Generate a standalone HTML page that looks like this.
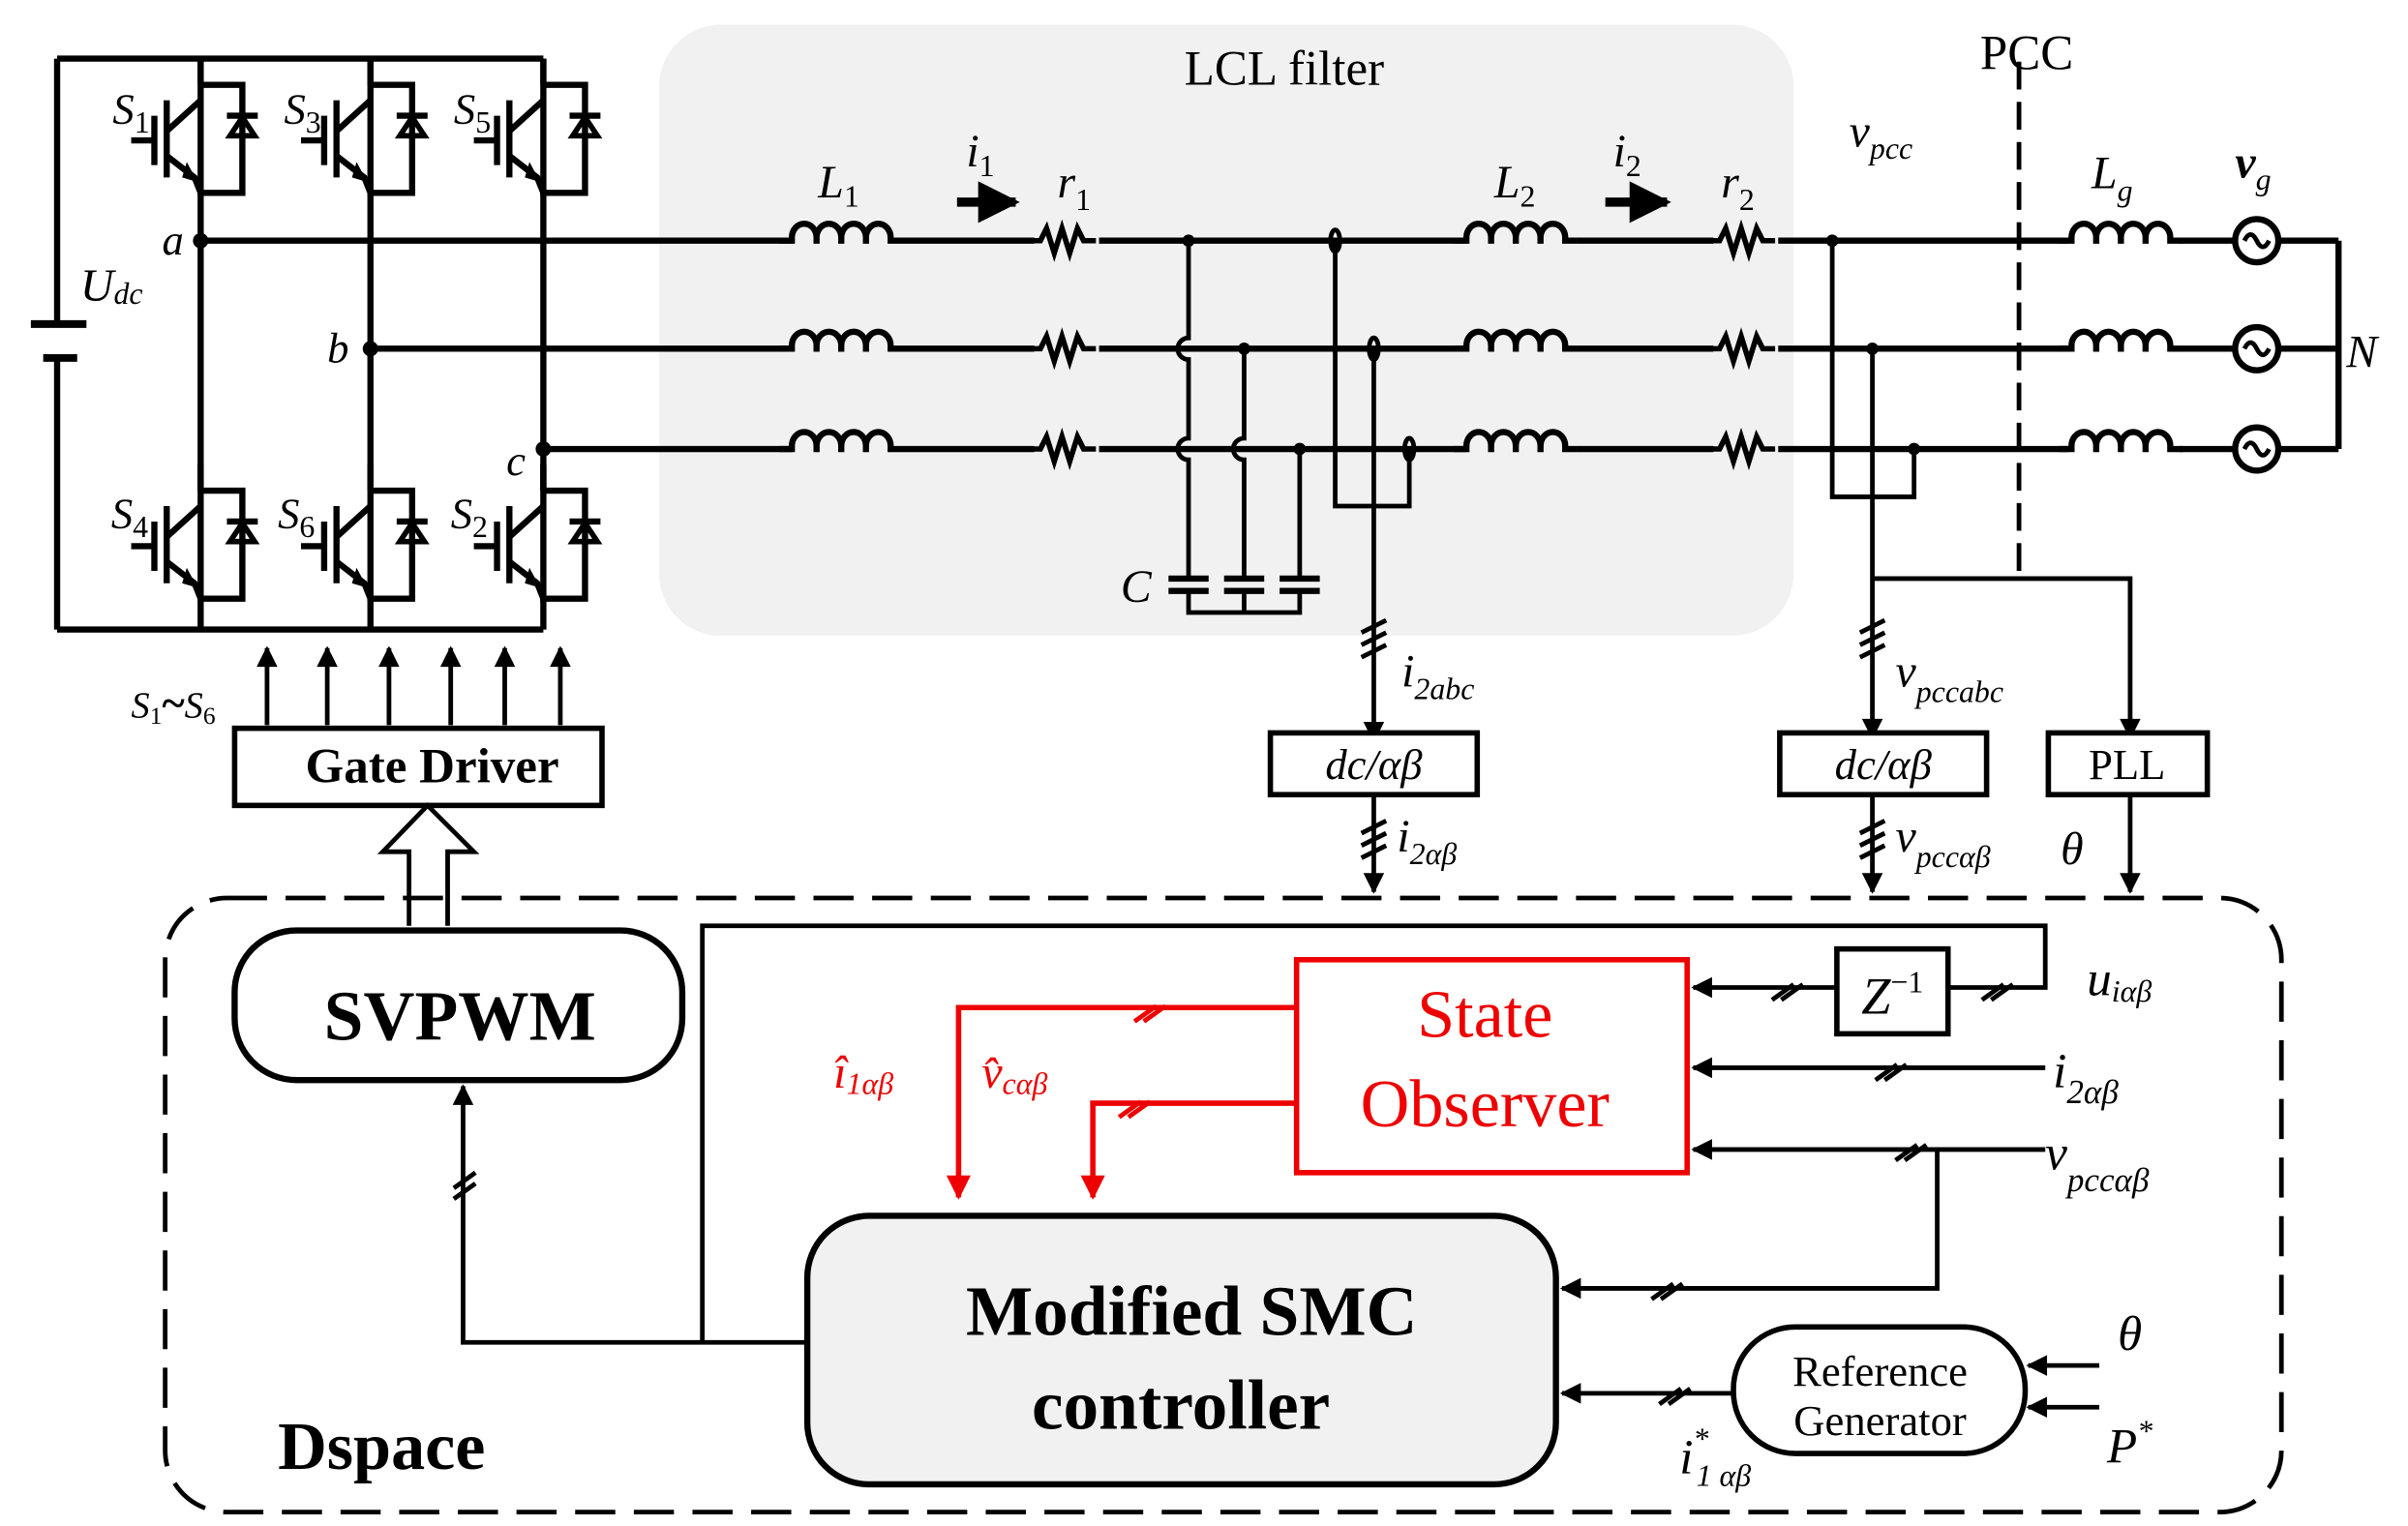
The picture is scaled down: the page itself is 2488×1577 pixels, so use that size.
<!DOCTYPE html>
<html><head><meta charset="utf-8"><style>
html,body{margin:0;padding:0;background:#fff;}
svg{display:block}
text{font-family:"Liberation Serif",serif;}
</style></head><body>
<svg width="2488" height="1577" viewBox="0 0 1560 989" preserveAspectRatio="none" xmlns="http://www.w3.org/2000/svg">
<defs>
<marker id="ar" viewBox="0 0 10 10" refX="9" refY="5" markerWidth="5" markerHeight="4.5" orient="auto"><path d="M0,0 L10,5 L0,10 z" fill="#000"/></marker>
<marker id="arr" viewBox="0 0 10 10" refX="9" refY="5" markerWidth="5" markerHeight="4.5" orient="auto"><path d="M0,0 L10,5 L0,10 z" fill="#e00"/></marker>
<g id="ind"><path d="M0,0 h8 v-2 a8,9 0 0 1 16,0 v4 m0,-4 a8,9 0 0 1 16,0 v4 m0,-4 a8,9 0 0 1 16,0 v4 m0,-4 a8,9 0 0 1 16,0 v2 h8" fill="none" stroke="#000" stroke-width="4"/></g>
<g id="res"><path d="M0,0 h8 l4,-8 l5,16 l5,-16 l5,16 l5,-16 l4,8 h8" fill="none" stroke="#000" stroke-width="3.5"/></g>
<g id="sw" fill="none" stroke="#000" stroke-width="4">
<path d="M0,0 v17 h27 v70 h-27 v-70"/>
<path d="M0,17 v-17"/>
<path d="M-22,27 v50"/>
<path d="M-30,37 v32"/>
<path d="M-45,53 h15"/>
<path d="M-22,47 L0,27"/>
<path d="M-22,63 L-4,77 L0,87"/>
</g>
<g id="swp">
<use href="#sw"/>
<path d="M-9,67 L-2,80 L-12,77 z" fill="#000"/>
<path d="M27,38 L19,50 L35,50 z" fill="none" stroke="#000" stroke-width="3.5"/>
<path d="M17,37 h20" stroke="#000" stroke-width="4"/>
</g>
<g id="src"><circle r="14" fill="#fff" stroke="#000" stroke-width="4"/><path d="M-8,0 q4,-8 8,0 q4,8 8,0" fill="none" stroke="#000" stroke-width="3"/></g>
</defs>

<rect x="427" y="16" width="735" height="396" rx="40" fill="#f1f1f1"/>
<text x="832" y="55" font-size="32" text-anchor="middle">LCL filter</text>

<g stroke="#000" stroke-width="4" fill="none">
<path d="M37,38 H352 M37,408 H352"/>
<path d="M37,38 V210 M37,232 V408"/>
<path d="M20,210 H56 M28,232 H50" stroke-width="5"/>
<path d="M130,125 V318 M240,125 V318 M352,125 V318"/>
<path d="M130,388 V408 M240,388 V408 M352,388 V408"/>
</g>
<use href="#swp" x="130" y="38"/><use href="#swp" x="240" y="38"/><use href="#swp" x="352" y="38"/>
<use href="#swp" x="130" y="301"/><use href="#swp" x="240" y="301"/><use href="#swp" x="352" y="301"/>
<g font-size="28" font-style="italic">
<text x="73" y="80">S<tspan font-size="20" font-style="normal" dy="6">1</tspan></text>
<text x="184" y="80">S<tspan font-size="20" font-style="normal" dy="6">3</tspan></text>
<text x="294" y="80">S<tspan font-size="20" font-style="normal" dy="6">5</tspan></text>
<text x="72" y="342">S<tspan font-size="20" font-style="normal" dy="6">4</tspan></text>
<text x="180" y="342">S<tspan font-size="20" font-style="normal" dy="6">6</tspan></text>
<text x="292" y="342">S<tspan font-size="20" font-style="normal" dy="6">2</tspan></text>
<text x="105" y="165">a</text><text x="212" y="235">b</text><text x="328" y="308">c</text>
<text x="52" y="195" font-size="30">U<tspan font-size="20" dy="2">dc</tspan></text>
</g>
<circle cx="130" cy="156" r="5"/><circle cx="240" cy="226" r="5"/><circle cx="352" cy="291" r="5"/>

<g stroke="#000" stroke-width="4" fill="none">
<path d="M130,156 H513 M585,156 H670 M712,156 H950 M1022,156 H1110 M1152,156 H1340 M1412,156 H1515"/>
<path d="M240,226 H513 M585,226 H670 M712,226 H950 M1022,226 H1110 M1152,226 H1340 M1412,226 H1515"/>
<path d="M352,291 H513 M585,291 H670 M712,291 H950 M1022,291 H1110 M1152,291 H1340 M1412,291 H1515"/>
<path d="M1515,156 V291"/>
</g>
<use href="#ind" x="505" y="156"/><use href="#ind" x="505" y="226"/><use href="#ind" x="505" y="291"/>
<use href="#ind" x="942" y="156"/><use href="#ind" x="942" y="226"/><use href="#ind" x="942" y="291"/>
<use href="#ind" x="1334" y="156"/><use href="#ind" x="1334" y="226"/><use href="#ind" x="1334" y="291"/>
<use href="#res" x="666" y="156"/><use href="#res" x="666" y="226"/><use href="#res" x="666" y="291"/>
<use href="#res" x="1106" y="156"/><use href="#res" x="1106" y="226"/><use href="#res" x="1106" y="291"/>
<use href="#src" x="1462" y="156"/><use href="#src" x="1462" y="226"/><use href="#src" x="1462" y="291"/>

<g stroke="#000" stroke-width="3" fill="none">
<path d="M770,156 V219 a7,7 0 0 0 0,14 V284 a7,7 0 0 0 0,14 V375"/>
<path d="M806,226 V284 a7,7 0 0 0 0,14 V375"/>
<path d="M842,291 V375"/>
<path d="M770,383 V397 H842 V383 M806,383 V397"/>
<path d="M757,375 H783 M757,383 H783 M793,375 H819 M793,383 H819 M829,375 H855 M829,383 H855" stroke-width="4"/>
</g>
<circle cx="770" cy="156" r="4"/><circle cx="806" cy="226" r="4"/><circle cx="842" cy="291" r="4"/>
<text x="726" y="390" font-size="30" font-style="italic">C</text>

<g stroke="#000" stroke-width="3" fill="none">
<path d="M865,156 V328 H913 V291"/>
<path d="M890,226 V480" marker-end="url(#ar)"/>
<ellipse cx="865" cy="156" rx="3" ry="7"/><ellipse cx="890" cy="226" rx="3" ry="7"/><ellipse cx="913" cy="291" rx="3" ry="7"/>
<path d="M882,410 l16,-8 M882,418 l16,-8 M882,426 l16,-8"/>
</g>
<g stroke="#000" stroke-width="3" fill="none">
<path d="M1187,156 V322 H1240 V291"/>
<path d="M1213,226 V478" marker-end="url(#ar)"/>
<path d="M1213,375 H1380 V478" marker-end="url(#ar)"/>
<path d="M1205,410 l16,-8 M1205,418 l16,-8 M1205,426 l16,-8"/>
</g>
<circle cx="1187" cy="156" r="4"/><circle cx="1213" cy="226" r="4"/><circle cx="1240" cy="291" r="4"/>
<path d="M1308,40 V375" stroke="#000" stroke-width="3" stroke-dasharray="18,8"/>
<text x="1313" y="45" font-size="32" text-anchor="middle">PCC</text>

<g font-size="30" font-style="italic">
<text x="530" y="128">L<tspan font-size="20" font-style="normal" dy="6">1</tspan></text>
<text x="626" y="108">i<tspan font-size="20" font-style="normal" dy="6">1</tspan></text>
<text x="685" y="128">r<tspan font-size="20" font-style="normal" dy="8">1</tspan></text>
<text x="968" y="128">L<tspan font-size="20" font-style="normal" dy="6">2</tspan></text>
<text x="1045" y="108">i<tspan font-size="20" font-style="normal" dy="6">2</tspan></text>
<text x="1115" y="128">r<tspan font-size="20" font-style="normal" dy="8">2</tspan></text>
<text x="1198" y="95">v<tspan font-size="20" dy="8">pcc</tspan></text>
<text x="1355" y="122">L<tspan font-size="20" dy="8">g</tspan></text>
<text x="1448" y="115" font-weight="bold">v<tspan font-size="20" font-weight="normal" dy="8">g</tspan></text>
<text x="1520" y="238">N</text>
<text x="908" y="445">i<tspan font-size="20" dy="8">2abc</tspan></text>
<text x="1228" y="445">v<tspan font-size="20" dy="10">pccabc</tspan></text>
<text x="905" y="552">i<tspan font-size="20" dy="8">2αβ</tspan></text>
<text x="1228" y="552">v<tspan font-size="20" dy="10">pccαβ</tspan></text>
<text x="1335" y="560">θ</text>
</g>
<path d="M620,131 H658" stroke="#000" stroke-width="6" marker-end="url(#ar)"/>
<path d="M1040,131 H1080" stroke="#000" stroke-width="6" marker-end="url(#ar)"/>

<g stroke="#000" stroke-width="3" fill="none">
<path d="M173,470 V420" marker-end="url(#ar)"/>
<path d="M212,470 V420" marker-end="url(#ar)"/>
<path d="M252,470 V420" marker-end="url(#ar)"/>
<path d="M292,470 V420" marker-end="url(#ar)"/>
<path d="M327,470 V420" marker-end="url(#ar)"/>
<path d="M363,470 V420" marker-end="url(#ar)"/>
<rect x="152" y="472" width="238" height="50" stroke-width="3.5"/>
<path d="M265,600 V552 H248 L277,522 L307,552 H290 V600" fill="#fff"/>
</g>
<text x="85" y="465" font-size="24" font-style="italic">S<tspan font-size="16" font-style="normal" dy="4">1</tspan><tspan dy="-4" font-size="28" font-style="normal" font-weight="bold">~</tspan>S<tspan font-size="16" font-style="normal" dy="4">6</tspan></text>
<text x="280" y="507" font-size="32" font-weight="bold" text-anchor="middle">Gate Driver</text>

<g stroke="#000" stroke-width="3.5" fill="#fff">
<rect x="823" y="475" width="134" height="40"/>
<rect x="1153" y="475" width="134" height="40"/>
<rect x="1327" y="475" width="103" height="40"/>
</g>
<text x="890" y="505" font-size="28" font-style="italic" text-anchor="middle">dc/αβ</text>
<text x="1220" y="505" font-size="28" font-style="italic" text-anchor="middle">dc/αβ</text>
<text x="1378" y="505" font-size="28" text-anchor="middle">PLL</text>
<g stroke="#000" stroke-width="3" fill="none">
<path d="M890,515 V578" marker-end="url(#ar)"/>
<path d="M1213,515 V578" marker-end="url(#ar)"/>
<path d="M1380,515 V578" marker-end="url(#ar)"/>
<path d="M882,540 l16,-8 M882,548 l16,-8 M882,556 l16,-8"/>
<path d="M1205,540 l16,-8 M1205,548 l16,-8 M1205,556 l16,-8"/>
</g>

<rect x="107" y="582" width="1371" height="398" rx="40" fill="none" stroke="#000" stroke-width="3" stroke-dasharray="26,12"/>
<text x="180" y="952" font-size="44" font-weight="bold">Dspace</text>
<rect x="152" y="603" width="290" height="97" rx="40" fill="#fff" stroke="#000" stroke-width="4"/>
<text x="298" y="674" font-size="46" font-weight="bold" text-anchor="middle">SVPWM</text>

<rect x="523" y="788" width="485" height="174" rx="40" fill="#f1f1f1" stroke="#000" stroke-width="4"/>
<text x="772" y="865" font-size="46" font-weight="bold" text-anchor="middle">Modified SMC</text>
<text x="765" y="926" font-size="46" font-weight="bold" text-anchor="middle">controller</text>

<rect x="840" y="622" width="253" height="138" fill="#fff" stroke="#e00" stroke-width="3.5"/>
<text x="962" y="672" font-size="44" fill="#e00" text-anchor="middle">State</text>
<text x="962" y="730" font-size="44" fill="#e00" text-anchor="middle">Observer</text>

<rect x="1190" y="615" width="72" height="55" fill="#fff" stroke="#000" stroke-width="3.5"/>
<text x="1226" y="657" font-size="34" font-style="italic" text-anchor="middle">Z<tspan font-size="20" font-style="normal" dy="-14">−1</tspan></text>

<g stroke="#000" stroke-width="3" fill="none">
<path d="M523,870 H300 V704" marker-end="url(#ar)"/>
<path d="M455,870 V600 H1325 V640 H1262"/>
<path d="M1190,640 H1097" marker-end="url(#ar)"/>
<path d="M1325,692 H1097" marker-end="url(#ar)"/>
<path d="M1325,745 H1097" marker-end="url(#ar)"/>
<path d="M1255,745 V835 H1012" marker-end="url(#ar)"/>
<path d="M1123,903 H1012" marker-end="url(#ar)"/>
<path d="M1360,885 H1314" marker-end="url(#ar)"/>
<path d="M1360,912 H1314" marker-end="url(#ar)"/>
<path d="M294,770 l14,-10 M294,777 l14,-10"/>
<path d="M1148,648 l14,-10 M1154,648 l14,-10 M1284,648 l14,-10 M1290,648 l14,-10"/>
<path d="M1215,700 l14,-10 M1221,700 l14,-10"/>
<path d="M1228,752 l14,-10 M1234,752 l14,-10"/>
<path d="M1070,842 l14,-10 M1076,842 l14,-10"/>
<path d="M1075,910 l14,-10 M1081,910 l14,-10"/>
</g>
<rect x="1123" y="860" width="189" height="82" rx="40" fill="#fff" stroke="#000" stroke-width="3.5"/>
<text x="1218" y="898" font-size="28" text-anchor="middle">Reference</text>
<text x="1218" y="930" font-size="28" text-anchor="middle">Generator</text>

<g stroke="#e00" stroke-width="3.5" fill="none">
<path d="M840,653 H621 V776" marker-end="url(#arr)"/>
<path d="M840,715 H708 V776" marker-end="url(#arr)"/>
<path d="M735,662 l14,-10 M741,662 l14,-10" stroke-width="3"/>
<path d="M725,724 l14,-10 M731,724 l14,-10" stroke-width="3"/>
</g>
<g font-size="30" font-style="italic" fill="#e00">
<text x="540" y="705">î<tspan font-size="20" dy="4">1αβ</tspan></text>
<text x="636" y="705">v̂<tspan font-size="20" dy="4">cαβ</tspan></text>
</g>
<g font-size="32" font-style="italic">
<text x="1352" y="645">u<tspan font-size="20" dy="4">iαβ</tspan></text>
<text x="1330" y="705">i<tspan font-size="22" dy="10">2αβ</tspan></text>
<text x="1325" y="758">v<tspan font-size="22" dy="14">pccαβ</tspan></text>
<text x="1372" y="875">θ</text>
<text x="1365" y="948">P<tspan font-size="20" dy="-14">*</tspan></text>
<text x="1088" y="955">i<tspan font-size="20" dy="-16">*</tspan><tspan font-size="20" dx="-8" dy="24">1 αβ</tspan></text>
</g>
</svg>
</body></html>
